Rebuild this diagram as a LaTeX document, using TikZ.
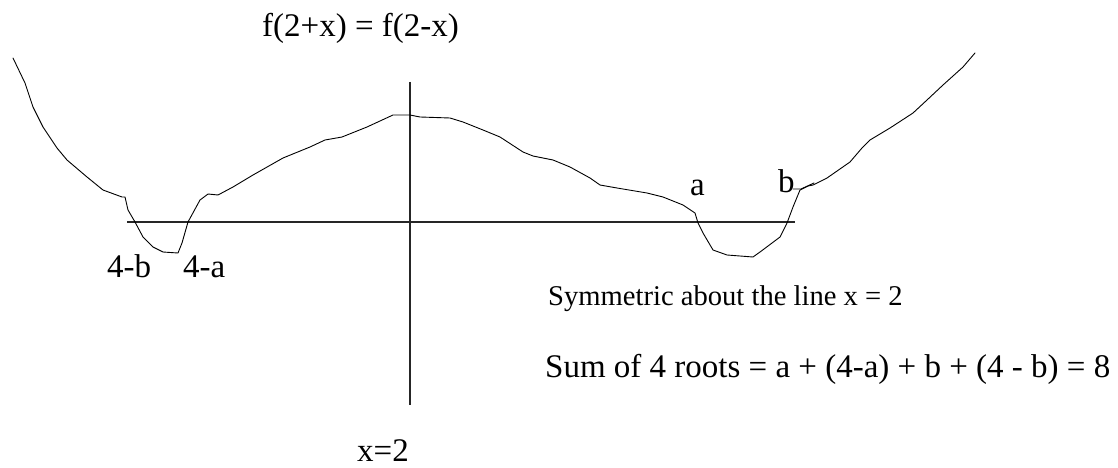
\documentclass[tikz,border=0pt]{standalone}
\usepackage{fontspec}
\setmainfont{Liberation Serif}
\begin{document}
\begin{tikzpicture}[x=1pt,y=-1pt,
  lbl/.style={inner sep=0pt,anchor=base west,font=\fontsize{33}{40}\selectfont},
  lblsmall/.style={inner sep=0pt,anchor=base west,font=\fontsize{28.6}{34}\selectfont},
  axis/.style={line width=1.2pt,draw=black!85},
  curve/.style={line width=0.9pt,line join=round,line cap=round}]
\useasboundingbox (0,0) rectangle (1118,468);
\fill[white] (0,0) rectangle (1118,468);
% axes
\coordinate (hl) at (127,222);
\coordinate (hr) at (795,222);
\coordinate (vt) at (410,82);
\coordinate (vb) at (410,405);
\draw[axis] (hl) -- (hr);
\draw[axis] (vt) -- (vb);
% curve
\draw[curve] (13,58) -- (25,83) -- (33,107) -- (43,127) -- (57,148) -- (67,160) -- (87,177) -- (103,190) -- (122,197) -- (125,197) -- (128,210) -- (135,222) -- (143,237) -- (153,247) -- (163,252) -- (178,253) -- (182,243) -- (188,222) -- (200,200) -- (208,194) -- (218,195) -- (233,187) -- (253,175) -- (283,158) -- (310,147) -- (325,140) -- (342,137) -- (367,127) -- (393,115) -- (410,115) -- (420,117) -- (450,118) -- (463,122) -- (483,130) -- (500,137) -- (523,152) -- (533,156) -- (553,160) -- (570,167) -- (590,178) -- (600,185) -- (617,188) -- (647,193) -- (663,197) -- (683,205) -- (695,213) -- (698,223) -- (703,233) -- (713,250) -- (727,255) -- (753,257) -- (760,252) -- (780,237) -- (787,223) -- (793,207) -- (800,190) -- (808,186) -- (813,185) -- (827,178) -- (850,162) -- (862,148) -- (870,140) -- (890,128) -- (913,113) -- (927,100) -- (943,85) -- (963,67) -- (975,53);
\coordinate (bt1) at (793,189);
\coordinate (bt2) at (801,189);
\coordinate (bt3) at (814,183);
\draw[curve] (bt1) -- (bt2) -- (bt3);
% labels
\node[lbl] (title) at (262,37) {f(2+x) = f(2-x)};
\node[lbl] (xeq) at (357,461) {x=2};
\node[lbl] (fb) at (107,277) {4-b};
\node[lbl] (fa) at (183,277) {4-a};
\node[lbl] (la) at (690,195) {a};
\node[lbl] (lb) at (778,192) {b};
\node[lblsmall] (sym) at (548,305) {Symmetric about the line x = 2};
\node[lbl] (sum) at (545,377) {Sum of 4 roots = a + (4-a) + b + (4 - b) = 8};
\end{tikzpicture}
\end{document}
